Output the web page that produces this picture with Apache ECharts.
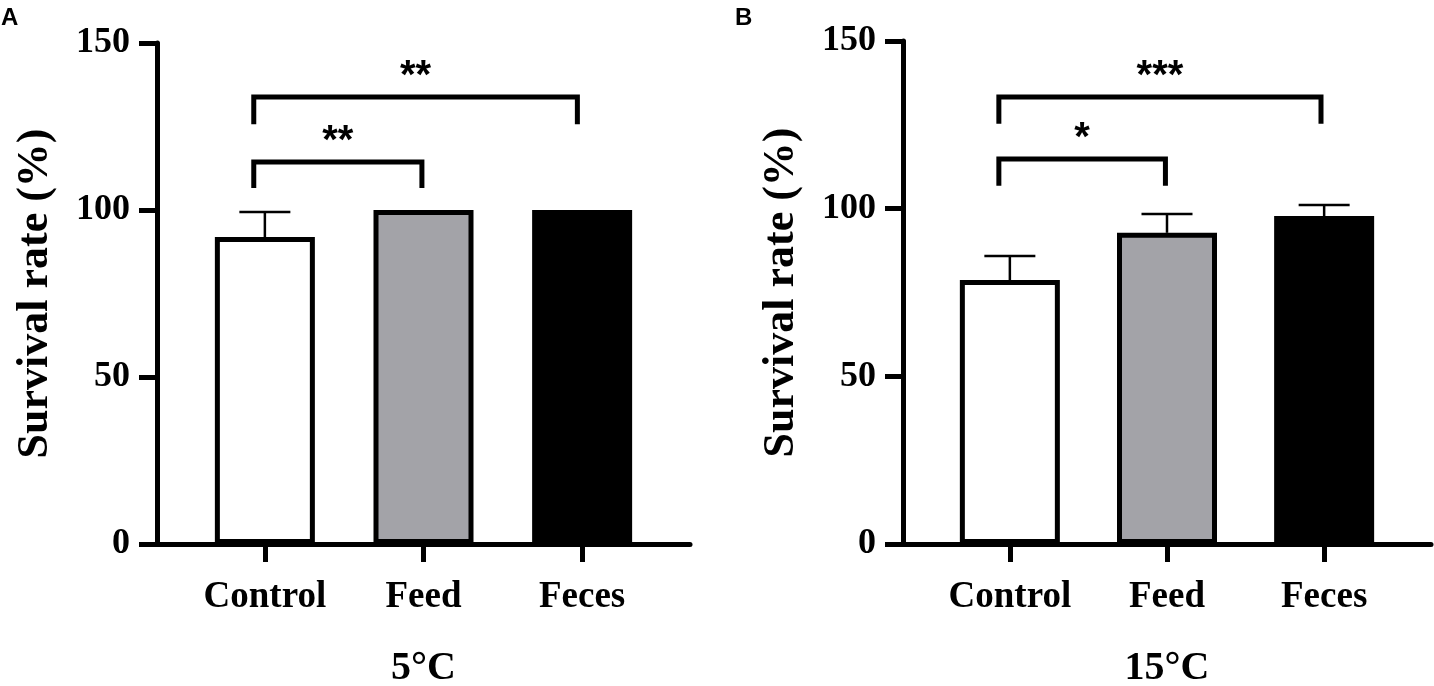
<!DOCTYPE html>
<html>
<head>
<meta charset="utf-8">
<script src="https://cdn.jsdelivr.net/npm/echarts@6/dist/echarts.min.js"></script>
<style>
html,body{margin:0;padding:0;background:#fff;}
#chart{width:1434px;height:686px;}
</style>
</head>
<body>
<div id="chart"></div>
<script>
// ---- data ----
const categories = ['Control', 'Feed', 'Feces'];
const categoryPos = [1, 2, 3];
const panelNames = ['5°C', '15°C'];
const panelLetters = ['A', 'B'];
const yTickValues = [0, 50, 100, 150];
const barColors = ['#ffffff', '#a3a3a8', '#000000'];

const meanA = [91.9, 100, 100];
const upperA = [99.4, 100, 100];
const meanB = [78.7, 92.8, 97.8];
const upperB = [85.9, 98.4, 101.1];

// brackets: [leftX, rightX, topY, legY, stars]
const bracketsA = [
  [0.93, 1.99, 114.4, 106.6, '**'],
  [0.93, 2.97, 133.8, 125.7, '**']
];
const bracketsB = [
  [0.93, 1.99, 114.8, 106.8, '*'],
  [0.93, 2.98, 133.3, 125.3, '***']
];

// ---- chart ----
const serif = 'Liberation Serif, Times New Roman, serif';
const sans = 'Liberation Sans, Arial, sans-serif';

function makeX(gi, name) {
  return {
    type: 'value', gridIndex: gi, min: 0.32, max: 3.68,
    name: name, nameLocation: 'middle', nameGap: 105,
    nameTextStyle: {fontFamily: serif, fontWeight: 'bold', fontSize: 40, color: '#000'},
    axisLine: {show: true, lineStyle: {color: '#000', width: 5}},
    axisTick: {show: true, customValues: categoryPos, length: 18, lineStyle: {color: '#000', width: 5}},
    axisLabel: {customValues: categoryPos, margin: 35, fontFamily: serif, fontWeight: 'bold', fontSize: 37, color: '#000',
      formatter: v => categories[Math.round(v) - 1] || ''},
    splitLine: {show: false}
  };
}
function makeY(gi) {
  return {
    type: 'value', gridIndex: gi, min: 0, max: 150, interval: 50,
    name: 'Survival rate (%)', nameLocation: 'middle', nameGap: 99, nameRotate: 90,
    nameTextStyle: {fontFamily: serif, fontWeight: 'bold', fontSize: 44, color: '#000'},
    axisLine: {show: true, lineStyle: {color: '#000', width: 5}},
    axisTick: {show: true, length: 18, lineStyle: {color: '#000', width: 5}},
    axisLabel: {margin: 27, fontFamily: serif, fontWeight: 'bold', fontSize: 36, color: '#000',
      customValues: yTickValues},
    splitLine: {show: false}
  };
}
function barSeries(gi, means) {
  return {
    type: 'bar', xAxisIndex: gi, yAxisIndex: gi, barWidth: 100, z: 3,
    data: means.map((m, i) => ({value: [categoryPos[i], m],
      itemStyle: {color: barColors[i], borderColor: '#000', borderWidth: 5}}))
  };
}
function errSeries(gi, means, uppers) {
  const d = [];
  means.forEach((m, i) => { if (uppers[i] > m) d.push([categoryPos[i], m, uppers[i]]); });
  return {
    type: 'custom', xAxisIndex: gi, yAxisIndex: gi, z: 2,
    renderItem: function (params, api) {
      const p0 = api.coord([api.value(0), api.value(1)]);
      const p1 = api.coord([api.value(0), api.value(2)]);
      return {type: 'group', children: [
        {type: 'line', shape: {x1: p0[0], y1: p0[1], x2: p1[0], y2: p1[1]}, style: {stroke: '#000', lineWidth: 2.5}},
        {type: 'line', shape: {x1: p1[0] - 25.5, y1: p1[1], x2: p1[0] + 25.5, y2: p1[1]}, style: {stroke: '#000', lineWidth: 2.5}}
      ]};
    },
    data: d
  };
}
function bracketSeries(gi, brackets) {
  return {
    type: 'custom', xAxisIndex: gi, yAxisIndex: gi, z: 4,
    renderItem: function (params, api) {
      const b = brackets[params.dataIndex];
      const pl = api.coord([b[0], b[3]]);
      const tl = api.coord([b[0], b[2]]);
      const tr = api.coord([b[1], b[2]]);
      const pr = api.coord([b[1], b[3]]);
      const mid = api.coord([(b[0] + b[1]) / 2, b[2]]);
      return {type: 'group', children: [
        {type: 'polyline', shape: {points: [pl, tl, tr, pr]},
          style: {stroke: '#000', lineWidth: 5, fill: null, lineJoin: 'miter'}},
        {type: 'text', style: {text: b[4], x: mid[0], y: mid[1] - 40, align: 'center', verticalAlign: 'top',
          fill: '#000', font: 'bold 40px ' + sans}}
      ]};
    },
    data: brackets.map(b => [b[0], b[2]])
  };
}

const chart = echarts.init(document.getElementById('chart'));
chart.setOption({
  backgroundColor: '#fff',
  animation: false,
  title: [
    {text: panelLetters[0], left: 1, top: 6, padding: 0, textStyle: {fontFamily: sans, fontWeight: 'bold', fontSize: 24, color: '#000'}},
    {text: panelLetters[1], left: 735, top: 6, padding: 0, textStyle: {fontFamily: sans, fontWeight: 'bold', fontSize: 24, color: '#000'}}
  ],
  grid: [
    {left: 157, right: 744, top: 43, bottom: 142, containLabel: false, outerBoundsMode: 'none'},
    {left: 903, right: 3, top: 41, bottom: 142, containLabel: false, outerBoundsMode: 'none'}
  ],
  xAxis: [makeX(0, panelNames[0]), makeX(1, panelNames[1])],
  yAxis: [makeY(0), makeY(1)],
  series: [
    errSeries(0, meanA, upperA),
    barSeries(0, meanA),
    bracketSeries(0, bracketsA),
    errSeries(1, meanB, upperB),
    barSeries(1, meanB),
    bracketSeries(1, bracketsB)
  ]
});
</script>
</body>
</html>
